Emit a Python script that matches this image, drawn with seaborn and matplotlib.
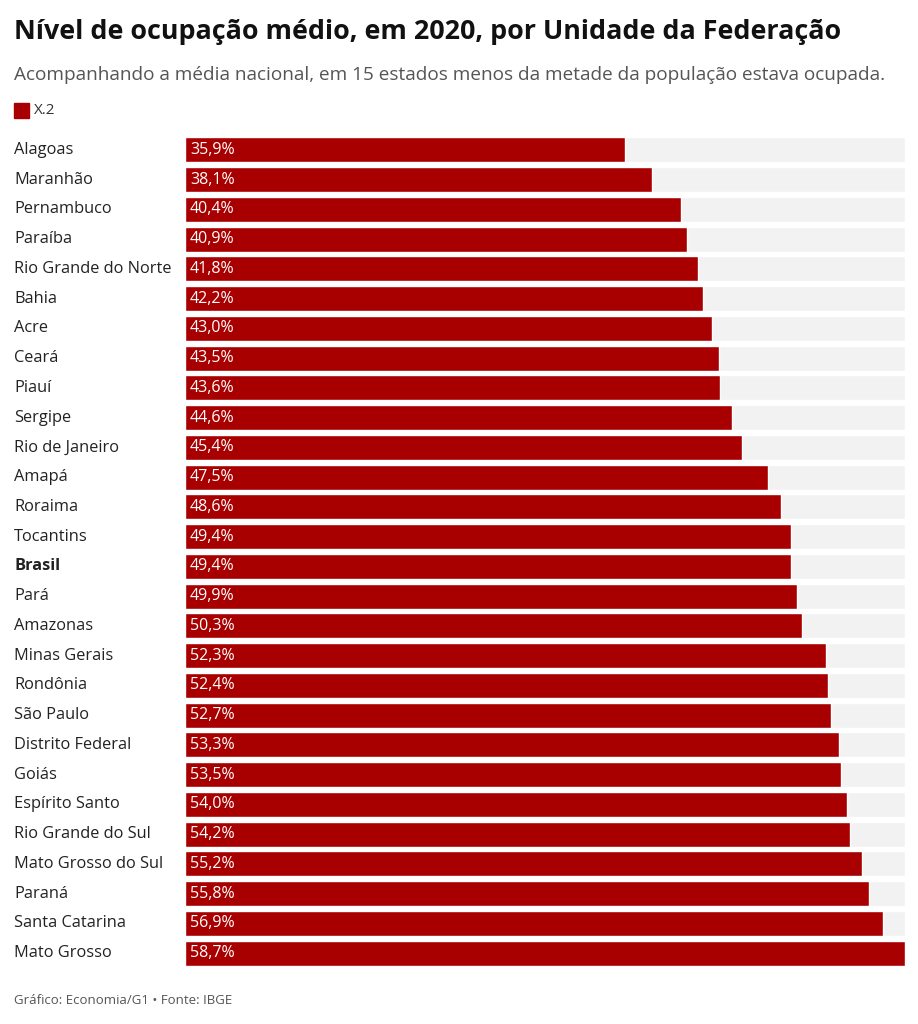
import matplotlib
matplotlib.use("Agg")
import matplotlib.pyplot as plt
import seaborn as sns
import pandas as pd

states = ["Alagoas", "Maranhão", "Pernambuco", "Paraíba", "Rio Grande do Norte", "Bahia", "Acre",
          "Ceará", "Piauí", "Sergipe", "Rio de Janeiro", "Amapá", "Roraima", "Tocantins", "Brasil",
          "Pará", "Amazonas", "Minas Gerais", "Rondônia", "São Paulo", "Distrito Federal", "Goiás",
          "Espírito Santo", "Rio Grande do Sul", "Mato Grosso do Sul", "Paraná", "Santa Catarina",
          "Mato Grosso"]
values = [35.9, 38.1, 40.4, 40.9, 41.8, 42.2, 43.0, 43.5, 43.6, 44.6, 45.4, 47.5, 48.6, 49.4, 49.4,
          49.9, 50.3, 52.3, 52.4, 52.7, 53.3, 53.5, 54.0, 54.2, 55.2, 55.8, 56.9, 58.7]

df = pd.DataFrame({"uf": states, "valor": values})
sns.set_theme(style="white")
plt.rcParams["font.family"] = ["Open Sans", "DejaVu Sans"]

red = "#a80000"
fig = plt.figure(figsize=(9.18, 10.24), dpi=100)
ax = fig.add_axes([185 / 918, 1 - 968 / 1024, 720 / 918, (968 - 135) / 1024])

maxv = max(values)
sns.barplot(data=df.assign(bg=maxv), x="bg", y="uf", color="#f2f2f2", width=0.84, ax=ax, saturation=1)
sns.barplot(data=df, x="valor", y="uf", color=red, width=0.84, ax=ax, saturation=1)
ax.set_xlim(0, maxv)
ax.set_ylim(len(states) - 0.5, -0.5)
ax.set_xlabel("")
ax.set_ylabel("")
ax.set_xticks([])
ax.set_yticks([])
for s in ax.spines.values():
    s.set_visible(False)

for i, (st, v) in enumerate(zip(states, values)):
    ax.text(0.4, i, f"{v:.1f}%".replace(".", ","), color="white", va="center", ha="left", fontsize=11.5)
    ax.text(-171 / 720 * maxv, i, st, color="#222222", va="center", ha="left", fontsize=11.8,
            fontweight="bold" if st == "Brasil" else "normal")

fig.text(14 / 918, 1 - 32 / 1024, "Nível de ocupação médio, em 2020, por Unidade da Federação",
         fontsize=19.4, fontweight="bold", va="center", ha="left", color="#111111")
fig.text(14 / 918, 1 - 75 / 1024,
         "Acompanhando a média nacional, em 15 estados menos da metade da população estava ocupada.",
         fontsize=13.7, va="center", ha="left", color="#555555")
fig.patches.append(plt.Rectangle((14 / 918, 1 - 118 / 1024), 15 / 918, 15 / 1024,
                                 transform=fig.transFigure, color=red))
fig.text(34 / 918, 1 - 111 / 1024, "X.2", fontsize=11, va="center", ha="left", color="#333333")
fig.text(14 / 918, 1 - 1000 / 1024, "Gráfico: Economia/G1 • Fonte: IBGE",
         fontsize=9.5, va="center", ha="left", color="#555555")

fig.savefig("out.png", dpi=100, facecolor="white")
